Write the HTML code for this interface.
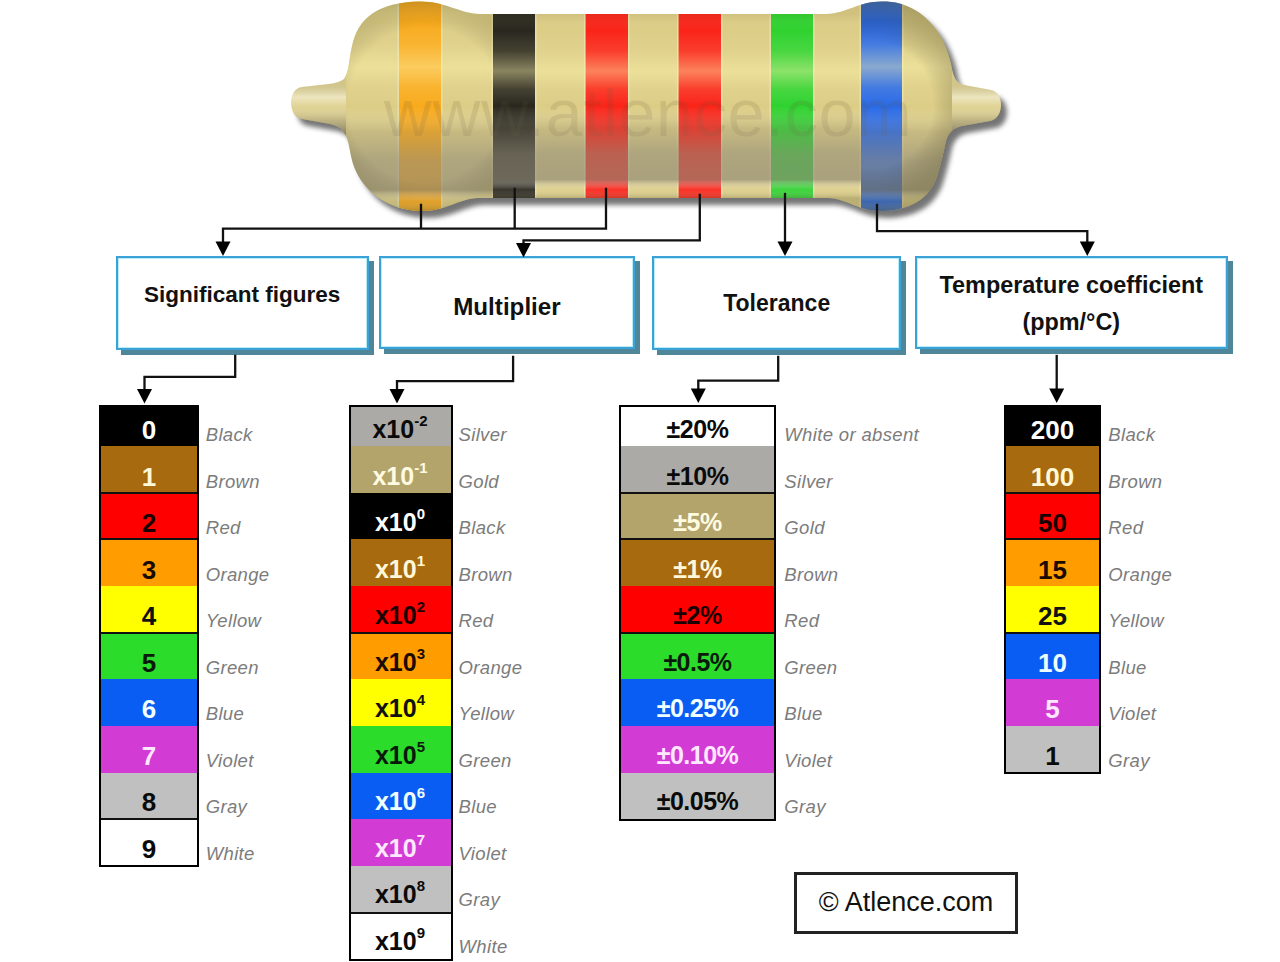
<!DOCTYPE html>
<html><head><meta charset="utf-8">
<style>
html,body{margin:0;padding:0;background:#fff;}
body{width:1280px;height:962px;position:relative;overflow:hidden;font-family:"Liberation Sans",sans-serif;}
.ov{position:absolute;left:0;top:0;}
.row{position:absolute;}
.tb{position:absolute;background:#fff;}
.sep{position:absolute;height:2px;background:#111;}
.tbb{position:absolute;box-sizing:border-box;border:2px solid #000;}
.num{position:absolute;height:46px;line-height:46px;text-align:center;font-weight:bold;font-size:26px;white-space:nowrap;}
.n2{font-size:25px;}
.n3{font-size:25px;letter-spacing:-0.5px;}
.num sup{font-size:15px;vertical-align:0;position:relative;top:-12px;}
.lab{position:absolute;height:46px;line-height:54px;font-style:italic;font-size:18.5px;color:#7c7c7c;white-space:nowrap;letter-spacing:0.35px;}
.hb{position:absolute;box-sizing:border-box;border:2.5px solid #3aa2d6;background:#fff;box-shadow:inset 0 0 0 1px #b8ecf8;}
.hbs{position:absolute;background:#50869a;}
.ht{position:absolute;text-align:center;font-weight:bold;font-size:23px;line-height:26px;color:#111;white-space:nowrap;}
.cp{position:absolute;left:794px;top:872px;width:224px;height:62px;box-sizing:border-box;border:3px solid #222;background:#fff;}
.cpt{position:absolute;left:794px;top:887px;width:224px;text-align:center;font-size:27px;line-height:30px;color:#111;}
</style></head><body>

<svg class="ov" width="1280" height="962" viewBox="0 0 1280 962">
 <defs>
  <filter id="blur" x="-20%" y="-20%" width="140%" height="140%"><feGaussianBlur stdDeviation="2.6"/></filter>
  <filter id="blur2" x="-20%" y="-20%" width="140%" height="140%"><feGaussianBlur stdDeviation="1.2"/></filter>
  <clipPath id="bc"><path d="M420,1.5 C378,2 358,18 352,46 C349,58 349,72 344,79 C340,82 334,84 320,85 L302,87 C288,88 287,117 302,119 L330,124 C338,126 342,128 344,133 C348,137 349,146 351,156 C358,190 388,211 422,211 C446,211 458,199 478,198 L828,198 C848,199 858,211 882,211 C915,210 932,195 938,173 C942,160 944,150 946,141 C948,134 952,128 962,126 L990,121 C1004,119 1005,93 991,90 L964,85 C956,83 953,77 951,64 C946,42 935,22 915,10 C905,4 895,1.5 882,1.5 C858,1.5 848,13 826,14 L480,14 C458,13 446,1.5 420,1.5 Z"/></clipPath>
  <linearGradient id="shade" x1="0" y1="14" x2="0" y2="198" gradientUnits="userSpaceOnUse">
   <stop offset="0.00" stop-color="#605830" stop-opacity="0.10"/>
   <stop offset="0.09" stop-color="#fff" stop-opacity="0.0"/>
   <stop offset="0.20" stop-color="#fff6b8" stop-opacity="0.12"/>
   <stop offset="0.31" stop-color="#fff6b0" stop-opacity="0.45"/>
   <stop offset="0.41" stop-color="#fff6b8" stop-opacity="0.12"/>
   <stop offset="0.50" stop-color="#fff" stop-opacity="0.0"/>
   <stop offset="0.62" stop-color="#908a78" stop-opacity="0.28"/>
   <stop offset="0.76" stop-color="#908a78" stop-opacity="0.60"/>
   <stop offset="0.90" stop-color="#908a78" stop-opacity="0.66"/>
   <stop offset="0.955" stop-color="#fff" stop-opacity="0.06"/>
   <stop offset="1.00" stop-color="#6e6850" stop-opacity="0.30"/>
  </linearGradient>
  <linearGradient id="shadeB" x1="0" y1="2" x2="0" y2="211" gradientUnits="userSpaceOnUse">
   <stop offset="0.00" stop-color="#605830" stop-opacity="0.10"/>
   <stop offset="0.09" stop-color="#fff" stop-opacity="0.0"/>
   <stop offset="0.20" stop-color="#fff6b8" stop-opacity="0.12"/>
   <stop offset="0.31" stop-color="#fff6b0" stop-opacity="0.45"/>
   <stop offset="0.41" stop-color="#fff6b8" stop-opacity="0.12"/>
   <stop offset="0.50" stop-color="#fff" stop-opacity="0.0"/>
   <stop offset="0.62" stop-color="#908a78" stop-opacity="0.28"/>
   <stop offset="0.76" stop-color="#908a78" stop-opacity="0.60"/>
   <stop offset="0.90" stop-color="#908a78" stop-opacity="0.66"/>
   <stop offset="0.955" stop-color="#fff" stop-opacity="0.06"/>
   <stop offset="1.00" stop-color="#6e6850" stop-opacity="0.30"/>
  </linearGradient>
  <linearGradient id="nub" x1="0" y1="82" x2="0" y2="132" gradientUnits="userSpaceOnUse">
   <stop offset="0" stop-color="#8a8470" stop-opacity="0.2"/>
   <stop offset="0.3" stop-color="#fff" stop-opacity="0.45"/>
   <stop offset="0.5" stop-color="#fff" stop-opacity="0.1"/>
   <stop offset="0.75" stop-color="#8a8470" stop-opacity="0.3"/>
   <stop offset="1" stop-color="#706a58" stop-opacity="0.6"/>
  </linearGradient>
  <radialGradient id="lbulb" cx="425" cy="105" r="110" gradientUnits="userSpaceOnUse">
   <stop offset="0.7" stop-color="#000" stop-opacity="0"/>
   <stop offset="1" stop-color="#6a6428" stop-opacity="0.22"/>
  </radialGradient>
  <radialGradient id="rbulb" cx="870" cy="105" r="105" gradientUnits="userSpaceOnUse">
   <stop offset="0.6" stop-color="#000" stop-opacity="0"/>
   <stop offset="1" stop-color="#5a5428" stop-opacity="0.35"/>
  </radialGradient>
 </defs>
 <path d="M420,1.5 C378,2 358,18 352,46 C349,58 349,72 344,79 C340,82 334,84 320,85 L302,87 C288,88 287,117 302,119 L330,124 C338,126 342,128 344,133 C348,137 349,146 351,156 C358,190 388,211 422,211 C446,211 458,199 478,198 L828,198 C848,199 858,211 882,211 C915,210 932,195 938,173 C942,160 944,150 946,141 C948,134 952,128 962,126 L990,121 C1004,119 1005,93 991,90 L964,85 C956,83 953,77 951,64 C946,42 935,22 915,10 C905,4 895,1.5 882,1.5 C858,1.5 848,13 826,14 L480,14 C458,13 446,1.5 420,1.5 Z" transform="translate(6,7)" fill="#666" opacity="0.9" filter="url(#blur)"/>
 <g clip-path="url(#bc)">
  <rect x="280" y="0" width="740" height="220" fill="#dccd86"/>
  <rect x="399" y="0" width="42" height="220" fill="#f8aa1c"/><rect x="397.5" y="0" width="1.5" height="220" fill="#fffbe0" fill-opacity="0.35"/><rect x="441" y="0" width="1.5" height="220" fill="#fffbe0" fill-opacity="0.35"/>
<rect x="493" y="0" width="42" height="220" fill="#2a281e"/><rect x="491.5" y="0" width="1.5" height="220" fill="#fffbe0" fill-opacity="0.35"/><rect x="535" y="0" width="1.5" height="220" fill="#fffbe0" fill-opacity="0.35"/>
<rect x="585.5" y="0" width="42.5" height="220" fill="#fa2418"/><rect x="584.0" y="0" width="1.5" height="220" fill="#fffbe0" fill-opacity="0.35"/><rect x="628" y="0" width="1.5" height="220" fill="#fffbe0" fill-opacity="0.35"/>
<rect x="678.5" y="0" width="42.5" height="220" fill="#fa2418"/><rect x="677.0" y="0" width="1.5" height="220" fill="#fffbe0" fill-opacity="0.35"/><rect x="721" y="0" width="1.5" height="220" fill="#fffbe0" fill-opacity="0.35"/>
<rect x="771" y="0" width="42" height="220" fill="#2fd22f"/><rect x="769.5" y="0" width="1.5" height="220" fill="#fffbe0" fill-opacity="0.35"/><rect x="813" y="0" width="1.5" height="220" fill="#fffbe0" fill-opacity="0.35"/>
<rect x="861" y="0" width="41" height="220" fill="#2a6ae6"/><rect x="859.5" y="0" width="1.5" height="220" fill="#fffbe0" fill-opacity="0.35"/><rect x="902" y="0" width="1.5" height="220" fill="#fffbe0" fill-opacity="0.35"/>
  <text x="384" y="135.6" font-family="Liberation Sans" font-size="66" letter-spacing="1" fill="#5a5030" fill-opacity="0.14">www.atlence.com</text>
  <rect x="493" y="0" width="368" height="220" fill="url(#shade)"/>
  <rect x="280" y="0" width="213" height="220" fill="url(#shadeB)"/>
  <rect x="861" y="0" width="159" height="220" fill="url(#shadeB)"/>
  <rect x="346" y="0" width="147" height="220" fill="url(#lbulb)"/>
  <rect x="861" y="0" width="91" height="220" fill="url(#rbulb)"/>
  <rect x="280" y="70" width="66" height="70" fill="url(#nub)"/>
  <rect x="952" y="70" width="60" height="70" fill="url(#nub)"/>
 </g>
</svg>
<div class="hbs" style="left:120.5px;top:260.5px;width:253.1px;height:94.1px"></div>
<div class="hb" style="left:115.5px;top:255.5px;width:253.1px;height:94.1px"></div>
<div class="ht" style="left:115.5px;top:282.2px;width:253.1px;font-size:22.5px">Significant figures</div>
<div class="hbs" style="left:384.2px;top:261.4px;width:255.5px;height:92.6px"></div>
<div class="hb" style="left:379.2px;top:256.4px;width:255.5px;height:92.6px"></div>
<div class="ht" style="left:379.2px;top:293.5px;width:255.5px;font-size:24.2px">Multiplier</div>
<div class="hbs" style="left:657.0px;top:261.4px;width:249.4px;height:93.2px"></div>
<div class="hb" style="left:652.0px;top:256.4px;width:249.4px;height:93.2px"></div>
<div class="ht" style="left:652.0px;top:289.7px;width:249.4px;font-size:23px">Tolerance</div>
<div class="hbs" style="left:919.6px;top:261.2px;width:313.4px;height:92.4px"></div>
<div class="hb" style="left:914.6px;top:256.2px;width:313.4px;height:92.4px"></div>
<div class="ht" style="left:914.6px;top:271.8px;width:313.4px;font-size:23.4px">Temperature coefficient</div>
<div class="ht" style="left:914.6px;top:308.5px;width:313.4px;font-size:23.4px">(ppm/°C)</div>
<div class="tb" style="left:99px;top:405px;width:100px;height:462.4px"></div>
<div class="row" style="left:99px;top:405.0px;width:100px;height:41.5px;background:#000000"></div>
<div class="num n1" style="left:99px;top:407.2px;width:100px;color:#fff">0</div>
<div class="lab" style="left:205.7px;top:408.0px">Black</div>
<div class="row" style="left:99px;top:446.0px;width:100px;height:47.1px;background:#a76a0e"></div>
<div class="num n1" style="left:99px;top:453.7px;width:100px;color:#fff8d8">1</div>
<div class="lab" style="left:205.7px;top:454.5px">Brown</div>
<div class="row" style="left:99px;top:492.7px;width:100px;height:47.2px;background:#ff0000"></div>
<div class="num n1" style="left:99px;top:500.2px;width:100px;color:#1a0000">2</div>
<div class="lab" style="left:205.7px;top:501.0px">Red</div>
<div class="row" style="left:99px;top:539.3px;width:100px;height:47.1px;background:#ff9c00"></div>
<div class="num n1" style="left:99px;top:546.7px;width:100px;color:#1a0a00">3</div>
<div class="lab" style="left:205.7px;top:547.5px">Orange</div>
<div class="row" style="left:99px;top:586.0px;width:100px;height:47.1px;background:#ffff00"></div>
<div class="num n1" style="left:99px;top:593.2px;width:100px;color:#111">4</div>
<div class="lab" style="left:205.7px;top:594.0px">Yellow</div>
<div class="row" style="left:99px;top:632.6px;width:100px;height:47.1px;background:#2bdc2b"></div>
<div class="num n1" style="left:99px;top:639.7px;width:100px;color:#0a1a0a">5</div>
<div class="lab" style="left:205.7px;top:640.5px">Green</div>
<div class="row" style="left:99px;top:679.3px;width:100px;height:47.1px;background:#0a5df2"></div>
<div class="num n1" style="left:99px;top:686.2px;width:100px;color:#f0ffff">6</div>
<div class="lab" style="left:205.7px;top:687.0px">Blue</div>
<div class="row" style="left:99px;top:726.0px;width:100px;height:47.1px;background:#d23cd4"></div>
<div class="num n1" style="left:99px;top:732.7px;width:100px;color:#ffe8ff">7</div>
<div class="lab" style="left:205.7px;top:733.5px">Violet</div>
<div class="row" style="left:99px;top:772.6px;width:100px;height:47.1px;background:#c0c0c0"></div>
<div class="num n1" style="left:99px;top:779.2px;width:100px;color:#0a0a0a">8</div>
<div class="lab" style="left:205.7px;top:780.0px">Gray</div>
<div class="row" style="left:99px;top:819.2px;width:100px;height:47.1px;background:#ffffff"></div>
<div class="num n1" style="left:99px;top:825.7px;width:100px;color:#0a0a0a">9</div>
<div class="lab" style="left:205.7px;top:826.5px">White</div>
<div class="sep" style="left:99px;top:491.7px;width:100px"></div>
<div class="sep" style="left:99px;top:538.3px;width:100px"></div>
<div class="sep" style="left:99px;top:631.6px;width:100px"></div>
<div class="sep" style="left:99px;top:818.2px;width:100px"></div>
<div class="tbb" style="left:99px;top:405px;width:100px;height:462.4px"></div>
<div class="tb" style="left:349px;top:405px;width:104px;height:555.7px"></div>
<div class="row" style="left:349px;top:405.0px;width:104px;height:41.5px;background:#abaaa7"></div>
<div class="num n2" style="left:348px;top:406.2px;width:104px;color:#0a0a0a">x10<sup>-2</sup></div>
<div class="lab" style="left:458.5px;top:408.0px">Silver</div>
<div class="row" style="left:349px;top:446.0px;width:104px;height:47.1px;background:#b3a46c"></div>
<div class="num n2" style="left:348px;top:452.7px;width:104px;color:#fffbe0">x10<sup>-1</sup></div>
<div class="lab" style="left:458.5px;top:454.5px">Gold</div>
<div class="row" style="left:349px;top:492.7px;width:104px;height:47.2px;background:#000000"></div>
<div class="num n2" style="left:348px;top:499.2px;width:104px;color:#fff">x10<sup>0</sup></div>
<div class="lab" style="left:458.5px;top:501.0px">Black</div>
<div class="row" style="left:349px;top:539.3px;width:104px;height:47.1px;background:#a76a0e"></div>
<div class="num n2" style="left:348px;top:545.7px;width:104px;color:#fff8d8">x10<sup>1</sup></div>
<div class="lab" style="left:458.5px;top:547.5px">Brown</div>
<div class="row" style="left:349px;top:586.0px;width:104px;height:47.1px;background:#ff0000"></div>
<div class="num n2" style="left:348px;top:592.2px;width:104px;color:#1a0000">x10<sup>2</sup></div>
<div class="lab" style="left:458.5px;top:594.0px">Red</div>
<div class="row" style="left:349px;top:632.6px;width:104px;height:47.1px;background:#ff9c00"></div>
<div class="num n2" style="left:348px;top:638.7px;width:104px;color:#1a0a00">x10<sup>3</sup></div>
<div class="lab" style="left:458.5px;top:640.5px">Orange</div>
<div class="row" style="left:349px;top:679.3px;width:104px;height:47.1px;background:#ffff00"></div>
<div class="num n2" style="left:348px;top:685.2px;width:104px;color:#111">x10<sup>4</sup></div>
<div class="lab" style="left:458.5px;top:687.0px">Yellow</div>
<div class="row" style="left:349px;top:726.0px;width:104px;height:47.1px;background:#2bdc2b"></div>
<div class="num n2" style="left:348px;top:731.7px;width:104px;color:#0a1a0a">x10<sup>5</sup></div>
<div class="lab" style="left:458.5px;top:733.5px">Green</div>
<div class="row" style="left:349px;top:772.6px;width:104px;height:47.1px;background:#0a5df2"></div>
<div class="num n2" style="left:348px;top:778.2px;width:104px;color:#f0ffff">x10<sup>6</sup></div>
<div class="lab" style="left:458.5px;top:780.0px">Blue</div>
<div class="row" style="left:349px;top:819.2px;width:104px;height:47.1px;background:#d23cd4"></div>
<div class="num n2" style="left:348px;top:824.7px;width:104px;color:#ffe8ff">x10<sup>7</sup></div>
<div class="lab" style="left:458.5px;top:826.5px">Violet</div>
<div class="row" style="left:349px;top:865.9px;width:104px;height:47.1px;background:#c0c0c0"></div>
<div class="num n2" style="left:348px;top:871.2px;width:104px;color:#0a0a0a">x10<sup>8</sup></div>
<div class="lab" style="left:458.5px;top:873.0px">Gray</div>
<div class="row" style="left:349px;top:912.5px;width:104px;height:47.1px;background:#ffffff"></div>
<div class="num n2" style="left:348px;top:917.7px;width:104px;color:#0a0a0a">x10<sup>9</sup></div>
<div class="lab" style="left:458.5px;top:919.5px">White</div>
<div class="sep" style="left:349px;top:631.6px;width:104px"></div>
<div class="sep" style="left:349px;top:911.5px;width:104px"></div>
<div class="tbb" style="left:349px;top:405px;width:104px;height:555.7px"></div>
<div class="tb" style="left:619px;top:405px;width:157px;height:415.8px"></div>
<div class="row" style="left:619px;top:405.0px;width:157px;height:41.5px;background:#ffffff"></div>
<div class="num n3" style="left:619px;top:406.2px;width:157px;color:#0a0a0a">±20%</div>
<div class="lab" style="left:784.3px;top:408.0px">White or absent</div>
<div class="row" style="left:619px;top:446.0px;width:157px;height:47.1px;background:#abaaa7"></div>
<div class="num n3" style="left:619px;top:452.7px;width:157px;color:#0a0a0a">±10%</div>
<div class="lab" style="left:784.3px;top:454.5px">Silver</div>
<div class="row" style="left:619px;top:492.7px;width:157px;height:47.2px;background:#b3a46c"></div>
<div class="num n3" style="left:619px;top:499.2px;width:157px;color:#fffbe0">±5%</div>
<div class="lab" style="left:784.3px;top:501.0px">Gold</div>
<div class="row" style="left:619px;top:539.3px;width:157px;height:47.1px;background:#a76a0e"></div>
<div class="num n3" style="left:619px;top:545.7px;width:157px;color:#fff8d8">±1%</div>
<div class="lab" style="left:784.3px;top:547.5px">Brown</div>
<div class="row" style="left:619px;top:586.0px;width:157px;height:47.1px;background:#ff0000"></div>
<div class="num n3" style="left:619px;top:592.2px;width:157px;color:#1a0000">±2%</div>
<div class="lab" style="left:784.3px;top:594.0px">Red</div>
<div class="row" style="left:619px;top:632.6px;width:157px;height:47.1px;background:#2bdc2b"></div>
<div class="num n3" style="left:619px;top:638.7px;width:157px;color:#0a1a0a">±0.5%</div>
<div class="lab" style="left:784.3px;top:640.5px">Green</div>
<div class="row" style="left:619px;top:679.3px;width:157px;height:47.1px;background:#0a5df2"></div>
<div class="num n3" style="left:619px;top:685.2px;width:157px;color:#f0ffff">±0.25%</div>
<div class="lab" style="left:784.3px;top:687.0px">Blue</div>
<div class="row" style="left:619px;top:726.0px;width:157px;height:47.1px;background:#d23cd4"></div>
<div class="num n3" style="left:619px;top:731.7px;width:157px;color:#ffe8ff">±0.10%</div>
<div class="lab" style="left:784.3px;top:733.5px">Violet</div>
<div class="row" style="left:619px;top:772.6px;width:157px;height:47.1px;background:#c0c0c0"></div>
<div class="num n3" style="left:619px;top:778.2px;width:157px;color:#0a0a0a">±0.05%</div>
<div class="lab" style="left:784.3px;top:780.0px">Gray</div>
<div class="sep" style="left:619px;top:491.7px;width:157px"></div>
<div class="sep" style="left:619px;top:538.3px;width:157px"></div>
<div class="sep" style="left:619px;top:631.6px;width:157px"></div>
<div class="tbb" style="left:619px;top:405px;width:157px;height:415.8px"></div>
<div class="tb" style="left:1004px;top:405px;width:97px;height:369.1px"></div>
<div class="row" style="left:1004px;top:405.0px;width:97px;height:41.5px;background:#000000"></div>
<div class="num n1" style="left:1004px;top:407.0px;width:97px;color:#fff">200</div>
<div class="lab" style="left:1108.3px;top:408.0px">Black</div>
<div class="row" style="left:1004px;top:446.0px;width:97px;height:47.1px;background:#a76a0e"></div>
<div class="num n1" style="left:1004px;top:453.5px;width:97px;color:#fff8d8">100</div>
<div class="lab" style="left:1108.3px;top:454.5px">Brown</div>
<div class="row" style="left:1004px;top:492.7px;width:97px;height:47.2px;background:#ff0000"></div>
<div class="num n1" style="left:1004px;top:500.0px;width:97px;color:#1a0000">50</div>
<div class="lab" style="left:1108.3px;top:501.0px">Red</div>
<div class="row" style="left:1004px;top:539.3px;width:97px;height:47.1px;background:#ff9c00"></div>
<div class="num n1" style="left:1004px;top:546.5px;width:97px;color:#1a0a00">15</div>
<div class="lab" style="left:1108.3px;top:547.5px">Orange</div>
<div class="row" style="left:1004px;top:586.0px;width:97px;height:47.1px;background:#ffff00"></div>
<div class="num n1" style="left:1004px;top:593.0px;width:97px;color:#111">25</div>
<div class="lab" style="left:1108.3px;top:594.0px">Yellow</div>
<div class="row" style="left:1004px;top:632.6px;width:97px;height:47.1px;background:#0a5df2"></div>
<div class="num n1" style="left:1004px;top:639.5px;width:97px;color:#f0ffff">10</div>
<div class="lab" style="left:1108.3px;top:640.5px">Blue</div>
<div class="row" style="left:1004px;top:679.3px;width:97px;height:47.1px;background:#d23cd4"></div>
<div class="num n1" style="left:1004px;top:686.0px;width:97px;color:#ffe8ff">5</div>
<div class="lab" style="left:1108.3px;top:687.0px">Violet</div>
<div class="row" style="left:1004px;top:726.0px;width:97px;height:47.1px;background:#c0c0c0"></div>
<div class="num n1" style="left:1004px;top:732.5px;width:97px;color:#0a0a0a">1</div>
<div class="lab" style="left:1108.3px;top:733.5px">Gray</div>
<div class="sep" style="left:1004px;top:491.7px;width:97px"></div>
<div class="sep" style="left:1004px;top:538.3px;width:97px"></div>
<div class="sep" style="left:1004px;top:631.6px;width:97px"></div>
<div class="tbb" style="left:1004px;top:405px;width:97px;height:369.1px"></div>
<div class="cp"></div><div class="cpt">© Atlence.com</div>

<svg class="ov" width="1280" height="962" viewBox="0 0 1280 962">
 <g stroke="#111" stroke-width="2.3" fill="none" stroke-linecap="square">
  <path d="M421,205 V228.7 M514.7,189 V228.7 M606,189 V228.7 H223 V244"/>
  <path d="M699.8,195 V240.4 H523.5 V246"/>
  <path d="M785,194 V244"/>
  <path d="M877,205 V231.2 H1087.3 V244"/>
  <path d="M235.2,356 V376.9 H144.5 V392"/>
  <path d="M513.1,357 V381.2 H397 V392"/>
  <path d="M778.2,357 V380.6 H698.3 V392"/>
  <path d="M1056.7,356 V392"/>
 </g>
 <path d="M215.5,241.5 L230.5,241.5 L223,256 Z" fill="#000"/> <path d="M516.0,243.0 L531.0,243.0 L523.5,257.5 Z" fill="#000"/> <path d="M777.5,241.5 L792.5,241.5 L785,256 Z" fill="#000"/> <path d="M1079.8,241.5 L1094.8,241.5 L1087.3,256 Z" fill="#000"/>
 <path d="M137.0,389.0 L152.0,389.0 L144.5,403.5 Z" fill="#000"/> <path d="M389.5,389.0 L404.5,389.0 L397,403.5 Z" fill="#000"/> <path d="M690.8,388.5 L705.8,388.5 L698.3,403 Z" fill="#000"/> <path d="M1049.2,388.5 L1064.2,388.5 L1056.7,403 Z" fill="#000"/>
</svg>
</body></html>
